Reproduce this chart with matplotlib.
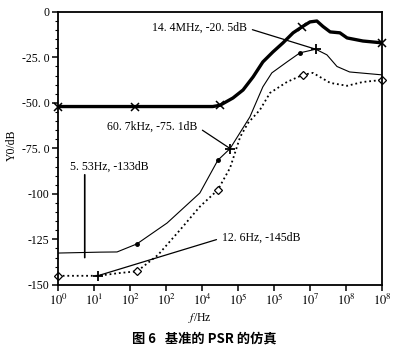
import numpy as np
import matplotlib
matplotlib.use("Agg")
import matplotlib.pyplot as plt
from matplotlib.ticker import FixedLocator, MultipleLocator, NullLocator

plt.rcParams.update({
    "font.family": ["Liberation Serif", "DejaVu Serif"],
    "mathtext.fontset": "stix",
    "font.size": 8.5,
    "axes.linewidth": 1.3,
})

# ── Data (frequency as log10(Hz), PSR in dB) ─────────────────────────────────
dec_thick = [0, 2.14, 4.3, 4.5, 4.86, 5.14, 5.42, 5.69, 5.97, 6.25, 6.53, 6.78, 7.0, 7.19,
             7.36, 7.56, 7.83, 8.03, 8.47, 9.0]
psr_thick = [-52, -52, -52, -51.3, -47.3, -42.9, -35.7, -27.5, -22, -17, -11.5, -8.2, -5.5, -5,
             -8, -11, -11.5, -14.3, -16, -17]

dec_thin = [0, 1.17, 1.64, 2.19, 3.03, 3.94, 4.44, 4.78, 5.33, 5.69, 5.94, 6.36, 6.72, 7.16,
            7.47, 7.75, 8.1, 9.0]
psr_thin = [-132.5, -132, -131.9, -127.5, -116, -99.5, -81.5, -75.1, -57.7, -41.2, -33.5, -27.5,
            -22.5, -20.5, -23.6, -30, -33, -34.6]

dec_dot = [0, 1.1, 1.7, 2.2, 2.78, 3.39, 3.94, 4.44, 4.78, 5.06, 5.28, 5.61, 5.89, 6.36, 6.8,
           7.08, 7.56, 8.03, 8.47, 9.0]
psr_dot = [-145, -145, -143.5, -142.5, -133.5, -119.8, -107, -97.8, -85.7, -68.7, -61, -53.8,
           -44.5, -38.5, -34.6, -33.5, -39, -40.6, -38.5, -37.4]

mark_thick = [0, 2.14, 4.5, 6.78, 9.0]
mark_thin = [2.19, 4.44, 6.72]
mark_dot = [0, 2.2, 4.44, 6.8, 9.0]

note_text = ["14. 4MHz, -20. 5dB", "60. 7kHz, -75. 1dB", "5. 53Hz, -133dB", "12. 6Hz, -145dB"]
note_freq = [14.4e6, 60.7e3, 5.53, 12.6]
note_psr = [-20.5, -75.1, -133, -145]

x_ticklabels = ["$10^{0}$", "$10^{1}$", "$10^{2}$", "$10^{2}$", "$10^{4}$",
                "$10^{5}$", "$10^{5}$", "$10^{7}$", "$10^{8}$", "$10^{8}$"]
y_ticks = [0, -25, -50, -75, -100, -125, -150]
y_ticklabels = ["0", "-25. 0", "-50. 0", "-75. 0", "-100", "-125", "-150"]


def hz(dec):
    return 10.0 ** np.asarray(dec)


fig = plt.figure(figsize=(4, 3.5), dpi=100)
ax = fig.add_axes([0.145, 0.186, 0.81, 0.78])

ax.plot(hz(dec_thick), psr_thick, color="black", lw=2.4, solid_joinstyle="round")
ax.plot(hz(dec_thin), psr_thin, color="black", lw=0.8)
ax.plot(hz(dec_dot), psr_dot, color="black", lw=1.3, ls=(0, (1, 1.6)))

ax.plot(hz(mark_thick), np.interp(mark_thick, dec_thick, psr_thick), ls="none",
        marker="x", ms=6, mew=1.1, color="black", clip_on=False)
ax.plot(hz(mark_thin), np.interp(mark_thin, dec_thin, psr_thin), ls="none",
        marker="o", ms=2.5, color="black", clip_on=False)
ax.plot(hz(mark_dot), np.interp(mark_dot, dec_dot, psr_dot), ls="none",
        marker="D", ms=4.5, mfc="white", mec="black", mew=0.9, clip_on=False)
ax.plot([note_freq[0], note_freq[1], note_freq[3]], [note_psr[0], note_psr[1], note_psr[3]],
        ls="none", marker="+", ms=7, mew=1.3, color="black", clip_on=False)

# annotations
line_kw = dict(arrowstyle="-", color="black", lw=0.9, shrinkA=2, shrinkB=0)
ax.annotate(note_text[0], xy=(note_freq[0], note_psr[0]), xytext=(0.29, 0.941),
            textcoords="axes fraction", ha="left", va="center",
            arrowprops=dict(relpos=(1, 0.5), **line_kw))
ax.annotate(note_text[1], xy=(note_freq[1], note_psr[1]), xytext=(0.151, 0.579),
            textcoords="axes fraction", ha="left", va="center",
            arrowprops=dict(relpos=(1, 0.5), **line_kw))
ax.text(0.037, 0.432, note_text[2], transform=ax.transAxes, ha="left", va="center")
ax.annotate("", xy=(note_freq[2], note_psr[2] - 2), xytext=(note_freq[2], -89.5),
            arrowprops=dict(arrowstyle="-", color="black", lw=1.2, shrinkA=0, shrinkB=0))
ax.annotate(note_text[3], xy=(note_freq[3], note_psr[3]), xytext=(0.506, 0.172),
            textcoords="axes fraction", ha="left", va="center",
            arrowprops=dict(relpos=(0, 0.5), **line_kw))

# axes
ax.set_xscale("log")
ax.set_xlim(1, 1e9)
ax.set_ylim(-150, 0)
ax.xaxis.set_major_locator(FixedLocator(hz(np.arange(10))))
ax.xaxis.set_minor_locator(NullLocator())
ax.set_xticklabels(x_ticklabels, fontsize=9)
ax.set_yticks(y_ticks)
ax.set_yticklabels(y_ticklabels, fontsize=8.5)
ax.yaxis.set_minor_locator(MultipleLocator(5))
ax.tick_params(axis="both", which="major", direction="out", length=4, width=1.1, pad=2)
ax.tick_params(axis="x", which="major", pad=1.5)
ax.tick_params(axis="y", which="minor", direction="out", length=2.5, width=0.8)

fig.text(0.03, 1 - 145 / 350, "Y0/dB", rotation=90, ha="center", va="center", fontsize=8.5)
fig.text(0.5, 1 - 318 / 350, "$f$/Hz", ha="center", va="center", fontsize=8.5)
fig.text(0.51, 1 - 339 / 350, "图 6   基准的 PSR 的仿真", ha="center", va="center",
         fontsize=9.5, fontweight="bold", family=["Noto Sans CJK SC", "DejaVu Sans"])

fig.savefig("out.png", dpi=100)
